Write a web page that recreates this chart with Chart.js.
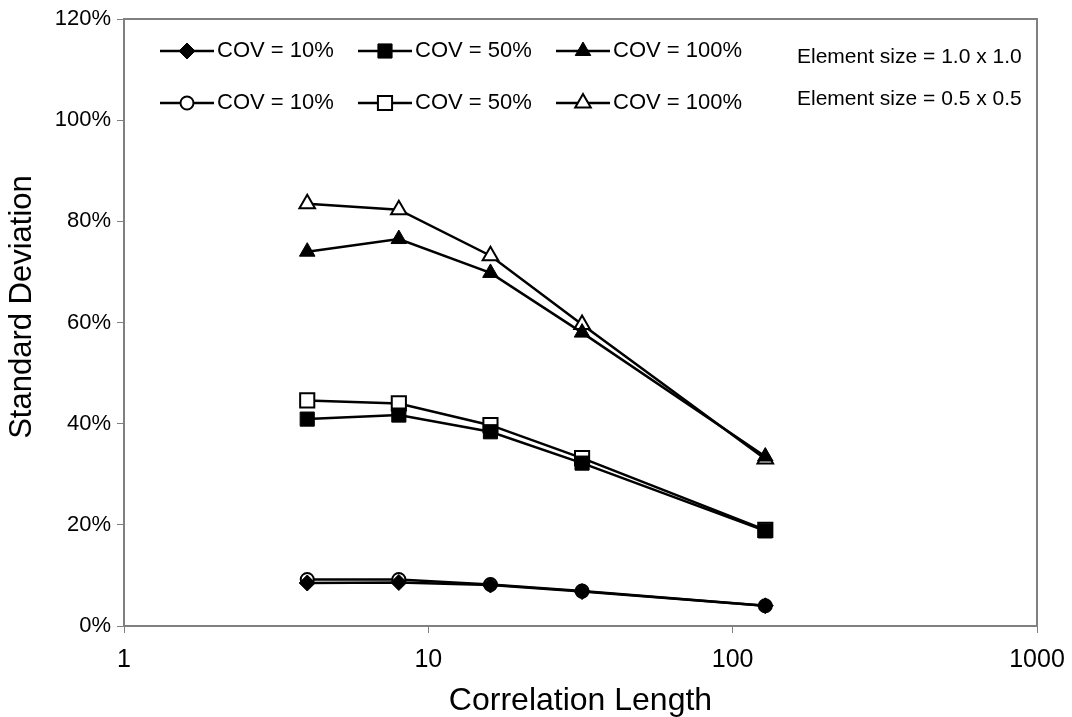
<!DOCTYPE html>
<html>
<head>
<meta charset="utf-8">
<script src="https://cdn.jsdelivr.net/npm/chart.js@4.4.1/dist/chart.umd.min.js"></script>
<style>
html,body{margin:0;padding:0;background:#ffffff;}
canvas{display:block;}
</style>
</head>
<body>
<canvas id="c" width="1072" height="717"></canvas>
<script>
// ---- data ----
const correlationLength = [4, 8, 16, 32, 128];
const cov10_el10  = [8.5, 8.6, 8.1, 6.8, 4.0];
const cov50_el10  = [40.9, 41.7, 38.4, 32.2, 18.8];
const cov100_el10 = [74.0, 76.5, 69.8, 58.0, 33.5];
const cov10_el05  = [9.2, 9.2, 8.2, 6.9, 4.0];
const cov50_el05  = [44.6, 44.0, 39.7, 33.2, 19.0];
const cov100_el05 = [83.5, 82.3, 73.2, 59.6, 33.0];
const xTickValues = [1, 10, 100, 1000];
const yTickValues = [0, 20, 40, 60, 80, 100, 120];
const seriesLabels = ['COV = 10%', 'COV = 50%', 'COV = 100%', 'COV = 10%', 'COV = 50%', 'COV = 100%'];
const elementLabels = ['Element size = 1.0 x 1.0', 'Element size = 0.5 x 0.5'];
const xTitle = 'Correlation Length';
const yTitle = 'Standard Deviation';

const FONT = "'Liberation Sans', Arial, sans-serif";

function pts(vals) { return vals.map((v, i) => ({ x: correlationLength[i], y: v })); }

const styleDefs = [
  { style: 'rectRot',  radius: 8,   filled: true },
  { style: 'rect',     radius: 10,  filled: true },
  { style: 'triangle', radius: 9,   filled: true },
  { style: 'circle',   radius: 6.5, filled: false },
  { style: 'rect',     radius: 10,  filled: false },
  { style: 'triangle', radius: 9,   filled: false }
];
const seriesValues = [cov10_el10, cov50_el10, cov100_el10, cov10_el05, cov50_el05, cov100_el05];

const datasets = seriesValues.map((vals, i) => {
  const s = styleDefs[i];
  return {
    label: seriesLabels[i],
    data: pts(vals),
    borderColor: '#000000',
    backgroundColor: s.filled ? '#000000' : '#ffffff',
    borderWidth: 2.5,
    pointStyle: s.style,
    pointRadius: s.radius,
    pointHoverRadius: s.radius,
    pointBackgroundColor: s.filled ? '#000000' : '#ffffff',
    pointBorderColor: '#000000',
    pointBorderWidth: s.filled ? 1 : 2,
    showLine: true,
    tension: 0,
    fill: false,
    order: s.filled ? 0 : 1
  };
});

const legendPlugin = {
  id: 'customLegend',
  afterDraw(chart) {
    const ctx = chart.ctx;
    ctx.save();
    const rowsY = [51, 103];
    const colX = [160, 358, 556];
    const lineLen = 54;
    for (let i = 0; i < 6; i++) {
      const row = Math.floor(i / 3), col = i % 3;
      const y = rowsY[row], x0 = colX[col];
      const s = styleDefs[i];
      ctx.strokeStyle = '#000';
      ctx.lineWidth = 2.5;
      ctx.beginPath();
      ctx.moveTo(x0, y);
      ctx.lineTo(x0 + lineLen, y);
      ctx.stroke();
      ctx.fillStyle = s.filled ? '#000' : '#fff';
      ctx.strokeStyle = '#000';
      ctx.lineWidth = s.filled ? 1 : 2;
      Chart.helpers.drawPoint(ctx, { pointStyle: s.style, radius: s.radius, rotation: 0, borderWidth: ctx.lineWidth }, x0 + lineLen / 2, y);
      ctx.fillStyle = '#000';
      ctx.font = '22px ' + FONT;
      ctx.textBaseline = 'middle';
      ctx.textAlign = 'left';
      ctx.fillText(seriesLabels[i], x0 + lineLen + 3, y);
    }
    ctx.font = '21px ' + FONT;
    ctx.fillStyle = '#000';
    ctx.textBaseline = 'middle';
    ctx.fillText(elementLabels[0], 797, 57);
    ctx.fillText(elementLabels[1], 797, 99);
    // y-axis title
    ctx.save();
    ctx.translate(22, 307);
    ctx.rotate(-Math.PI / 2);
    ctx.font = '31px ' + FONT;
    ctx.textAlign = 'center';
    ctx.textBaseline = 'middle';
    ctx.fillText(yTitle, 0, 0);
    ctx.restore();
    ctx.restore();
  }
};

const boxPlugin = {
  id: 'box',
  afterDatasetsDraw(chart) {
    const { left, top, right, bottom } = chart.chartArea;
    const ctx = chart.ctx;
    ctx.save();
    ctx.strokeStyle = '#808080';
    ctx.lineWidth = 2;
    ctx.strokeRect(left, top, right - left, bottom - top);
    ctx.restore();
  }
};

new Chart(document.getElementById('c'), {
  type: 'scatter',
  data: { datasets },
  options: {
    responsive: false,
    animation: false,
    events: [],
    layout: { padding: { top: 19, right: 35, left: 0, bottom: 0 } },
    plugins: { legend: { display: false }, tooltip: { enabled: false } },
    scales: {
      x: {
        type: 'logarithmic',
        min: 1, max: 1000,
        afterBuildTicks: (scale) => { scale.ticks = xTickValues.map(v => ({ value: v, major: true })); },
        afterFit: (scale) => { scale.height = 91; scale.paddingLeft = 0; scale.paddingRight = 0; },
        ticks: { color: '#000', font: { size: 25, family: FONT }, padding: 12, autoSkip: false, maxRotation: 0,
                 callback: (v) => String(v) },
        grid: { drawOnChartArea: false, drawTicks: true, tickLength: 7, color: '#808080', lineWidth: 1 },
        border: { display: true, color: '#808080', width: 2 },
        title: { display: true, text: xTitle, color: '#000', font: { size: 32, family: FONT, lineHeight: 1 }, padding: { top: 0, bottom: 0 } }
      },
      y: {
        type: 'linear',
        min: 0, max: 120,
        afterBuildTicks: (scale) => { scale.ticks = yTickValues.map(v => ({ value: v })); },
        afterFit: (scale) => { scale.width = 124; scale.paddingTop = 0; scale.paddingBottom = 0; },
        ticks: { color: '#000', font: { size: 22, family: FONT }, padding: 6, callback: (v) => v + '%' },
        grid: { drawOnChartArea: false, drawTicks: true, tickLength: 7, color: '#808080', lineWidth: 1 },
        border: { display: true, color: '#808080', width: 2 },
        title: { display: false, text: yTitle }
      }
    }
  },
  plugins: [legendPlugin, boxPlugin]
});
</script>
</body>
</html>
